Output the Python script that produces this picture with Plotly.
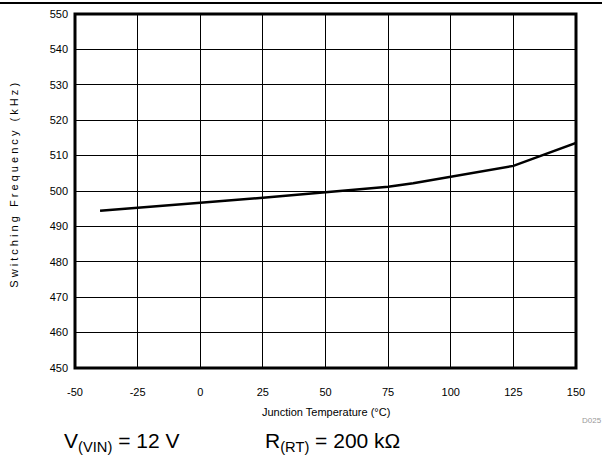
import plotly.graph_objects as go

temps = [-40, -25, 0, 25, 50, 75, 85, 100, 125, 150]
freq = [494.4, 495.2, 496.7, 498.1, 499.7, 501.2, 502.2, 504.0, 507.1, 513.6]
x_ticks = [-50, -25, 0, 25, 50, 75, 100, 125, 150]
x_labels = ["-50", "-25", "0", "25", "50", "75", "100", "125", "150"]
y_ticks = [450, 460, 470, 480, 490, 500, 510, 520, 530, 540, 550]

FONT = "Liberation Sans, Arial, sans-serif"

fig = go.Figure()
fig.add_trace(go.Scatter(x=temps, y=freq, mode="lines",
                         line=dict(color="black", width=2.5), showlegend=False))

fig.update_layout(
    width=602, height=457,
    margin=dict(l=75, r=26, t=14, b=89, autoexpand=False),
    paper_bgcolor="white", plot_bgcolor="white",
    font=dict(family=FONT, color="black", size=11),
    xaxis=dict(range=[-50, 150], tickvals=x_ticks, ticktext=x_labels, showgrid=True,
               gridcolor="black", gridwidth=1, zeroline=False, showline=False, ticks="",
               tickfont=dict(size=11), ticklabelstandoff=16, automargin=False),
    yaxis=dict(range=[450, 550], tickvals=y_ticks, showgrid=True, gridcolor="black",
               gridwidth=1, zeroline=False, showline=False, ticks="",
               tickfont=dict(size=11), ticklabelstandoff=6, automargin=False),
    shapes=[
        dict(type="rect", xref="paper", yref="paper", x0=0, x1=1, y0=0, y1=1,
             line=dict(color="black", width=3)),
        dict(type="line", xref="paper", yref="paper", x0=-0.2, x1=1.1,
             y0=1 + 11 / 354, y1=1 + 11 / 354, line=dict(color="black", width=2)),
    ],
    annotations=[
        dict(text="S w i t c h i n g   F r e q u e n c y   ( k H z )",
             xref="paper", yref="paper", x=-61 / 501, y=0.515, textangle=-90,
             showarrow=False, font=dict(size=11), xanchor="center", yanchor="middle"),
        dict(text="Junction Temperature (°C)", xref="paper", yref="paper",
             x=0.5, y=-44 / 354, showarrow=False, font=dict(size=11),
             xanchor="center", yanchor="middle"),
        dict(text="D025", xref="paper", yref="paper", x=505 / 501, y=-52 / 354,
             showarrow=False, font=dict(size=8, color="#999999"),
             xanchor="left", yanchor="middle"),
        dict(text="V<sub>(VIN)</sub> = 12 V", xref="paper", yref="paper",
             x=-13 / 501, y=-74 / 354, showarrow=False, font=dict(size=21),
             xanchor="left", yanchor="middle"),
        dict(text="R<sub>(RT)</sub> = 200 kΩ", xref="paper", yref="paper",
             x=188 / 501, y=-74 / 354, showarrow=False, font=dict(size=21),
             xanchor="left", yanchor="middle"),
    ],
)

fig.write_html("out.html", config={"displayModeBar": False},
               post_script="document.body.style.margin='0';document.body.style.padding='0';document.body.style.overflow='hidden';window.scrollTo(0,0);")
